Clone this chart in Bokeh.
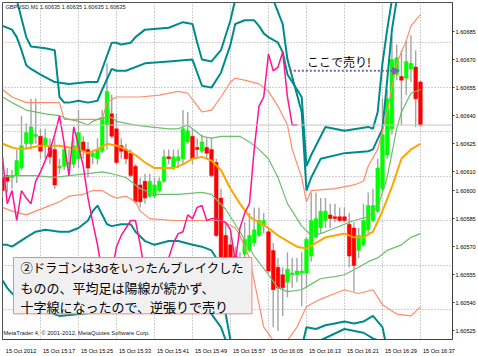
from bokeh.plotting import figure
from bokeh.models import (Range1d, FixedTicker, PrintfTickFormatter, Label, BoxAnnotation,
                          Arrow, NormalHead, Span, ColumnDataSource)
from bokeh.embed import file_html
from bokeh.resources import INLINE

# ---------------- data ----------------
symbol_text = "GBPUSD,M1  1.60635 1.60635 1.60635 1.60635"
copyright_text = "MetaTrader 4, \u00a9 2001-2012, MetaQuotes Software Corp."
time_labels = ["15 Oct 2012", "15 Oct 15:17", "15 Oct 15:25", "15 Oct 15:33", "15 Oct 15:41",
               "15 Oct 15:49", "15 Oct 15:57", "15 Oct 16:05", "15 Oct 16:13", "15 Oct 16:21",
               "15 Oct 16:29", "15 Oct 16:37"]
time_label_bars = [0, 8, 16, 24, 32, 40, 48, 56, 64, 72, 80, 88]
price_ticks = [1.60685, 1.60670, 1.60655, 1.60640, 1.60625, 1.60610,
               1.60600, 1.60585, 1.60570, 1.60555, 1.60540, 1.60525]
grid_levels = [1.606789, 1.606551, 1.606313, 1.606076, 1.605838, 1.605600, 1.605362]
current_price = 1.60635

ha_open = [
    1.60607, 1.60608, 1.60607, 1.60608, 1.60612, 1.60625, 1.60625, 1.60629, 1.60629, 1.60624,
    1.60623, 1.60622, 1.60612, 1.60613, 1.60614, 1.60614, 1.60617, 1.60626, 1.60622, 1.60618,
    1.60617, 1.60621, 1.60635, 1.60641, 1.60633, 1.60624, 1.60622, 1.60620, 1.60613, 1.60603,
    1.60605, 1.60597, 1.60597, 1.60600, 1.60605, 1.60618, 1.60612, 1.60616, 1.60617, 1.60626,
    1.60629, 1.60623, 1.60621, 1.60623, 1.60622, 1.60615, 1.60596, 1.60576, 1.60571, 1.60565,
    1.60563, 1.60566, 1.60568, 1.60572, 1.60576, 1.60581, 1.60578, 1.60568, 1.60559, 1.60555,
    1.60551, 1.60555, 1.60555, 1.60556, 1.60556, 1.60565, 1.60575, 1.60580, 1.60584, 1.60587,
    1.60586, 1.60586, 1.60586, 1.60582, 1.60580, 1.60568, 1.60571, 1.60579, 1.60584, 1.60589,
    1.60601, 1.60619, 1.60633, 1.60662, 1.60661, 1.60660, 1.60665, 1.60666, 1.60658]
ha_close = [
    1.60600, 1.60605, 1.60608, 1.60616, 1.60624, 1.60631, 1.60634, 1.60630, 1.60621, 1.60628,
    1.60618, 1.60603, 1.60613, 1.60622, 1.60615, 1.60624, 1.60631, 1.60621, 1.60612, 1.60620,
    1.60622, 1.60639, 1.60653, 1.60629, 1.60615, 1.60621, 1.60617, 1.60608, 1.60594, 1.60594,
    1.60596, 1.60605, 1.60603, 1.60605, 1.60618, 1.60617, 1.60618, 1.60618, 1.60633, 1.60632,
    1.60617, 1.60622, 1.60626, 1.60620, 1.60608, 1.60576, 1.60563, 1.60562, 1.60560, 1.60559,
    1.60556, 1.60574, 1.60576, 1.60579, 1.60584, 1.60584, 1.60557, 1.60547, 1.60548, 1.60548,
    1.60558, 1.60556, 1.60557, 1.60557, 1.60574, 1.60584, 1.60585, 1.60589, 1.60589, 1.60585,
    1.60585, 1.60584, 1.60584, 1.60565, 1.60560, 1.60576, 1.60584, 1.60592, 1.60592, 1.60612,
    1.60630, 1.60649, 1.60670, 1.60671, 1.60659, 1.60669, 1.60668, 1.60649, 1.60635]
bar_high = [
    1.60617, 1.60612, 1.60611, 1.60622, 1.60640, 1.60636, 1.60649, 1.60649, 1.60633, 1.60633,
    1.60628, 1.60628, 1.60617, 1.60625, 1.60622, 1.60628, 1.60643, 1.60629, 1.60626, 1.60622,
    1.60628, 1.60643, 1.60668, 1.60651, 1.60641, 1.60628, 1.60625, 1.60622, 1.60614, 1.60607,
    1.60609, 1.60609, 1.60607, 1.60607, 1.60622, 1.60622, 1.60622, 1.60622, 1.60643, 1.60642,
    1.60633, 1.60628, 1.60630, 1.60628, 1.60628, 1.60617, 1.60601, 1.60583, 1.60575, 1.60570,
    1.60567, 1.60583, 1.60588, 1.60591, 1.60591, 1.60588, 1.60580, 1.60572, 1.60564, 1.60559,
    1.60567, 1.60564, 1.60564, 1.60567, 1.60575, 1.60599, 1.60599, 1.60596, 1.60596, 1.60593,
    1.60593, 1.60591, 1.60591, 1.60588, 1.60583, 1.60580, 1.60593, 1.60599, 1.60601, 1.60617,
    1.60649, 1.60654, 1.60683, 1.60678, 1.60675, 1.60680, 1.60683, 1.60675, 1.60659]
bar_low = [
    1.60596, 1.60599, 1.60601, 1.60604, 1.60611, 1.60622, 1.60622, 1.60625, 1.60617, 1.60617,
    1.60614, 1.60601, 1.60609, 1.60611, 1.60612, 1.60612, 1.60612, 1.60617, 1.60607, 1.60614,
    1.60614, 1.60620, 1.60622, 1.60628, 1.60614, 1.60617, 1.60614, 1.60607, 1.60593, 1.60591,
    1.60593, 1.60596, 1.60596, 1.60599, 1.60604, 1.60614, 1.60611, 1.60612, 1.60614, 1.60625,
    1.60614, 1.60617, 1.60620, 1.60617, 1.60607, 1.60575, 1.60562, 1.60560, 1.60559, 1.60558,
    1.60555, 1.60564, 1.60567, 1.60570, 1.60575, 1.60577, 1.60556, 1.60527, 1.60525, 1.60533,
    1.60543, 1.60548, 1.60551, 1.60538, 1.60548, 1.60562, 1.60575, 1.60577, 1.60580, 1.60580,
    1.60583, 1.60583, 1.60583, 1.60559, 1.60546, 1.60564, 1.60570, 1.60577, 1.60583, 1.60588,
    1.60599, 1.60617, 1.60630, 1.60659, 1.60635, 1.60651, 1.60658, 1.60634, 1.60634]

# Bollinger style bands (bar index, price)
mid_x = [0, 2, 4, 6, 8, 10, 12, 14, 16, 18, 20, 22, 24, 26, 28, 30, 32, 34, 36, 38, 40, 42, 44,
         46, 48, 50, 52, 54, 56, 58, 60, 62, 64, 66, 68, 70, 72, 74, 76, 78, 80, 82, 84, 86, 88]
mid_y = [1.60625, 1.60623, 1.60622, 1.60623, 1.60624, 1.60624, 1.60624, 1.60623, 1.60622, 1.60620,
         1.60622, 1.60625, 1.60624, 1.60622, 1.60619, 1.60615, 1.60612, 1.60612, 1.60612, 1.60614,
         1.60617, 1.60618, 1.60616, 1.60611, 1.60601, 1.60593, 1.60586, 1.60583, 1.60580, 1.60576,
         1.60573, 1.60570, 1.60569, 1.60572, 1.60575, 1.60576, 1.60577, 1.60575, 1.60575, 1.60578,
         1.60589, 1.60602, 1.60617, 1.60622, 1.60625]

up1_x = [0, 2, 5, 9, 12, 14, 16, 18, 19, 21, 23, 24, 28, 31, 35, 37, 39, 40, 42, 44, 46, 48, 50,
         52, 54, 56, 58, 60, 63, 65, 67, 70, 74, 77, 79, 81, 83, 84, 85, 86, 88]
up1_y = [1.60650, 1.60647, 1.60643, 1.60641, 1.60640, 1.60638, 1.60637, 1.60635, 1.60637, 1.60639,
         1.60639, 1.60637, 1.60635, 1.60634, 1.60633, 1.60633, 1.60635, 1.60633, 1.60629, 1.60628,
         1.60629, 1.60629, 1.60629, 1.60626, 1.60622, 1.60617, 1.60607, 1.60593, 1.60581, 1.60576,
         1.60577, 1.60580, 1.60584, 1.60586, 1.60591, 1.60607, 1.60633, 1.60642, 1.60647, 1.60652,
         1.60654]
dn1_x = [0, 2, 7, 11, 14, 18, 21, 23, 26, 29, 32, 37, 42, 44, 47, 50, 53, 56, 58, 60, 63, 65,
         67, 70, 72, 75, 77, 79, 81, 84, 86, 88]
dn1_y = [1.60607, 1.60608, 1.60608, 1.60607, 1.60608, 1.60609, 1.60610, 1.60609, 1.60607, 1.60601,
         1.60598, 1.60598, 1.60599, 1.60598, 1.60590, 1.60578, 1.60565, 1.60555, 1.60548, 1.60546,
         1.60547, 1.60550, 1.60553, 1.60554, 1.60555, 1.60559, 1.60562, 1.60564, 1.60568, 1.60571,
         1.60575, 1.60577]

up2_x = [0, 2, 5, 12, 13, 21, 22, 24, 29, 33, 37, 39, 42, 44, 46, 48, 49, 51, 54, 56, 58, 60,
         61, 63, 64, 65, 70, 74, 76, 77, 79, 81, 83, 85, 86, 88]
up2_y = [1.60654, 1.60650, 1.60647, 1.60647, 1.60638, 1.60638, 1.60647, 1.60650, 1.60650, 1.60651,
         1.60653, 1.60652, 1.60642, 1.60643, 1.60650, 1.60658, 1.60660, 1.60659, 1.60657, 1.60653,
         1.60645, 1.60635, 1.60622, 1.60607, 1.60594, 1.60600, 1.60601, 1.60603, 1.60605, 1.60613,
         1.60622, 1.60642, 1.60668, 1.60680, 1.60688, 1.60694]
dn2_x = [0, 2, 5, 9, 12, 14, 17, 19, 21, 23, 24, 26, 28, 29, 31, 36, 40, 43, 46, 49, 50, 52,
         55, 57, 58, 60, 62, 64, 67, 70, 72, 75, 78, 80, 83, 86, 88]
dn2_y = [1.60591, 1.60589, 1.60587, 1.60591, 1.60594, 1.60597, 1.60598, 1.60600, 1.60600, 1.60597,
         1.60596, 1.60597, 1.60594, 1.60589, 1.60585, 1.60584, 1.60584, 1.60584, 1.60584, 1.60580,
         1.60576, 1.60564, 1.60527, 1.60520, 1.60519, 1.60520, 1.60527, 1.60538, 1.60542, 1.60545,
         1.60547, 1.60545, 1.60547, 1.60539, 1.60534, 1.60533, 1.60538]

up3a_x = [2, 3, 4, 5, 6, 9, 11, 12, 13, 14, 16, 18, 20, 21, 23, 24, 26, 30, 35, 40, 42, 44, 46,
          48, 49, 51, 53, 54, 55, 56, 58, 59, 60, 63, 64, 65, 67, 68, 72, 77, 78, 79, 80, 81,
          82, 83]
up3a_y = [1.60712, 1.60702, 1.60692, 1.60682, 1.60677, 1.60676, 1.60675, 1.60650, 1.60647, 1.60647,
          1.60648, 1.60647, 1.60648, 1.60654, 1.60665, 1.60664, 1.60664, 1.60668, 1.60669, 1.60670,
          1.60656, 1.60655, 1.60663, 1.60678, 1.60689, 1.60691, 1.60691, 1.60688, 1.60684, 1.60682,
          1.60679, 1.60674, 1.60662, 1.60650, 1.60613, 1.60619, 1.60629, 1.60634, 1.60632, 1.60634,
          1.60633, 1.60642, 1.60668, 1.60686, 1.60702, 1.60720]
up3b_x = [0, 2, 3, 4, 5, 6, 8, 11, 14, 18, 20, 21, 23, 24, 25, 27, 28, 30, 35, 38, 40, 41, 42,
          44, 46, 48, 49, 50, 56, 57, 59, 60, 63, 64, 65, 66, 67, 72, 77, 78, 80, 81, 82, 83, 84]
up3b_y = [1.60688, 1.60686, 1.60682, 1.60675, 1.60667, 1.60665, 1.60662, 1.60658, 1.60657, 1.60658,
          1.60658, 1.60665, 1.60679, 1.60679, 1.60678, 1.60679, 1.60682, 1.60686, 1.60687, 1.60690,
          1.60689, 1.60679, 1.60670, 1.60669, 1.60675, 1.60691, 1.60702, 1.60715, 1.60715, 1.60702,
          1.60689, 1.60670, 1.60642, 1.60600, 1.60607, 1.60612, 1.60617, 1.60620, 1.60621, 1.60622,
          1.60633, 1.60659, 1.60686, 1.60702, 1.60715]
dn3a_x = [0, 1, 2, 5, 7, 9, 12, 14, 16, 18, 19, 20, 22, 23, 25, 27, 28, 30, 32, 35, 37, 40, 42,
          44, 45, 46, 47, 48, 49, 52, 58, 62, 64, 66, 68, 70, 72, 74, 76, 78, 80, 81, 82]
dn3a_y = [1.60571, 1.60571, 1.60570, 1.60575, 1.60578, 1.60579, 1.60578, 1.60578, 1.60580, 1.60584,
          1.60589, 1.60592, 1.60582, 1.60581, 1.60582, 1.60582, 1.60578, 1.60573, 1.60571, 1.60573,
          1.60573, 1.60571, 1.60570, 1.60568, 1.60564, 1.60550, 1.60534, 1.60520, 1.60505, 1.60490,
          1.60490, 1.60505, 1.60527, 1.60526, 1.60528, 1.60529, 1.60530, 1.60529, 1.60530, 1.60533,
          1.60527, 1.60515, 1.60500]
dn3b_x = [0, 1, 2, 6, 12, 20, 25, 30, 35, 40, 43, 44, 46, 47, 48, 50, 60, 65, 67, 72, 76, 78,
          80, 82, 84]
dn3b_y = [1.60552, 1.60548, 1.60545, 1.60538, 1.60533, 1.60535, 1.60540, 1.60536, 1.60538, 1.60540,
          1.60537, 1.60534, 1.60527, 1.60520, 1.60510, 1.60495, 1.60495, 1.60510, 1.60520, 1.60526,
          1.60524, 1.60521, 1.60519, 1.60505, 1.60495]

pink_y = [1.60618, 1.60593, 1.60600, 1.60584, 1.60600, 1.60596, 1.60593, 1.60605, 1.60610, 1.60616,
          1.60622, 1.60630, 1.60640, 1.60625, 1.60608, 1.60634, 1.60624, 1.60613, 1.60596, 1.60583,
          1.60571, 1.60556, 1.60548, 1.60556, 1.60570, 1.60576, 1.60580, 1.60584, 1.60584, 1.60571,
          1.60556, 1.60548, 1.60543, 1.60548, 1.60556, 1.60564, 1.60572, 1.60577, 1.60578, 1.60587,
          1.60585, 1.60591, 1.60592, 1.60584, 1.60585, 1.60585, 1.60584, 1.60583, 1.60579, 1.60562,
          1.60580, 1.60588, 1.60593, 1.60622, 1.60645, 1.60650, 1.60673, 1.60664, 1.60666, 1.60674,
          1.60650, 1.60635, 1.60635]

sell_level = 1.60664
sell_from_bar = 60.5
sell_to_bar = 83.6
sell_text = "ここで売り!"
note_lines = ["②ドラゴンは3σをいったんブレイクした",
              "ものの、平均足は陽線が続かず、",
              "十字線になったので、逆張りで売り"]

# ---------------- styles ----------------
GREEN_BODY = "#00FF00"
RED_BODY = "#FF0000"
WICK = "#A4A4A4"
ORANGE = "#FFA500"
BAND1 = "#6CBF6C"
BAND2 = "#FF8C69"
BAND3 = "#008B8B"
PINK = "#FF1493"
PURPLE = "#7E62A6"
AXIS_FONT = "Liberation Sans"
CJK_FONT = "Noto Sans CJK JP"

n = len(ha_open)
idx = list(range(n))
colors = [GREEN_BODY if c > o else RED_BODY for o, c in zip(ha_open, ha_close)]
src = ColumnDataSource(dict(
    x=idx, h=bar_high, l=bar_low,
    top=[max(o, c) for o, c in zip(ha_open, ha_close)],
    bottom=[min(o, c) for o, c in zip(ha_open, ha_close)],
    color=colors))

p = figure(width=478, height=356, x_range=Range1d(0, 94.75), y_range=Range1d(1.605204, 1.607005),
           output_backend="svg", toolbar_location=None, title=None, y_axis_location="right",
           min_border_left=2, min_border_top=2, min_border_right=25, min_border_bottom=13)
p.background_fill_color = "white"
p.border_fill_color = "white"
p.outline_line_color = "#505050"
p.outline_line_width = 1

ya = p.yaxis[0]
ya.ticker = FixedTicker(ticks=price_ticks)
ya.formatter = PrintfTickFormatter(format="%.5f")
ya.major_label_text_font = AXIS_FONT
ya.major_label_text_font_size = "5.6px"
ya.major_label_text_color = "#000000"
ya.major_tick_out = 2
ya.major_tick_in = 0
ya.minor_tick_out = 0
ya.minor_tick_in = 0
ya.major_label_standoff = 1
ya.axis_line_color = "#404040"
ya.major_tick_line_color = "#404040"

xa = p.xaxis[0]
label_shift = 3.9
xa.ticker = FixedTicker(ticks=[b + label_shift for b in time_label_bars])
xa.major_label_overrides = {b + label_shift: t for b, t in zip(time_label_bars, time_labels)}
xa.major_label_text_font = AXIS_FONT
xa.major_label_text_font_size = "5.6px"
xa.major_label_text_color = "#000000"
xa.major_tick_line_color = None
xa.minor_tick_line_color = None
xa.major_label_standoff = 2
xa.axis_line_color = "#404040"

p.xgrid.ticker = FixedTicker(ticks=time_label_bars)
p.ygrid.ticker = FixedTicker(ticks=grid_levels)
for g in (p.xgrid[0], p.ygrid[0]):
    g.grid_line_color = "#A0A0A0"
    g.grid_line_dash = "1 2"
    g.grid_line_width = 1

p.add_layout(Span(location=current_price, dimension="width", line_color="#C4C4C4", line_width=1))

p.segment(x0="x", y0="h", x1="x", y1="l", source=src, line_color=WICK, line_width=1.4)
p.vbar(x="x", width=0.78, top="top", bottom="bottom", source=src,
       fill_color="color", line_color="color", line_width=0.5)

p.line(up3a_x, up3a_y, line_color=BAND3, line_width=2)
p.line(up3b_x, up3b_y, line_color=BAND3, line_width=2)
p.line(dn3a_x, dn3a_y, line_color=BAND3, line_width=2)
p.line(dn3b_x, dn3b_y, line_color=BAND3, line_width=2)
p.line(up2_x, up2_y, line_color=BAND2, line_width=1.2)
p.line(dn2_x, dn2_y, line_color=BAND2, line_width=1.2)
p.line(up1_x, up1_y, line_color=BAND1, line_width=1.2)
p.line(dn1_x, dn1_y, line_color=BAND1, line_width=1.2)
p.line(mid_x, mid_y, line_color=ORANGE, line_width=2)
p.line(list(range(len(pink_y))), pink_y, line_color=PINK, line_width=1.5)

# annotations
p.add_layout(Arrow(end=NormalHead(size=7, fill_color=PURPLE, line_color=PURPLE),
                   x_start=sell_from_bar, y_start=sell_level, x_end=sell_to_bar, y_end=sell_level,
                   line_color=PURPLE, line_width=2, line_dash="2 2"))
p.add_layout(Label(x=64.1, y=1.606689, text=sell_text, text_font=CJK_FONT, text_font_size="12px",
                   text_color="#000000", text_baseline="middle"))

p.add_layout(BoxAnnotation(left=2.31, right=52.52, bottom=1.605341, top=1.605642,
                           fill_color="#F0F0F0", fill_alpha=1.0, line_color="#E9897E",
                           line_width=1, line_alpha=1.0))
for t, yy, fs in zip(note_lines, [1.605584, 1.605481, 1.605378], ["12.3px", "13px", "13px"]):
    p.add_layout(Label(x=3.78, y=yy, text=t, text_font=CJK_FONT, text_font_size=fs,
                       text_color="#000000", text_baseline="middle"))

p.add_layout(Label(x=0.63, y=1.606979, text=symbol_text, text_font=AXIS_FONT,
                   text_font_size="5.6px", text_color="#202020", text_baseline="middle"))
p.add_layout(Label(x=0.2, y=1.605241, text=copyright_text, text_font=AXIS_FONT,
                   text_font_size="5.8px", text_color="#202020", text_baseline="middle"))
p.add_layout(Label(x=94.75, y=current_price, x_offset=2, text="1.60635", text_font=AXIS_FONT,
                   text_font_size="5.6px", text_color="#FFFFFF", text_baseline="middle",
                   background_fill_color="#000000", background_fill_alpha=1.0))

open("out.html", "w").write(file_html(p, INLINE))
